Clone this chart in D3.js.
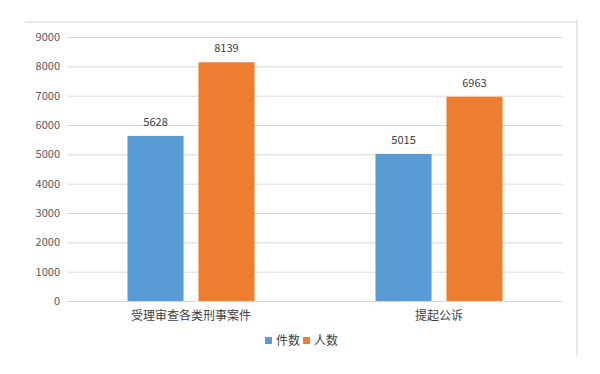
<!DOCTYPE html>
<html>
<head>
<meta charset="utf-8">
<script src="https://cdn.jsdelivr.net/npm/d3@7/dist/d3.min.js"></script>
<style>
  body { margin: 0; background: #fff; }
  text { font-family: "Noto Sans CJK SC", "Liberation Sans", sans-serif; }
</style>
</head>
<body>
<svg id="chart" width="600" height="374"></svg>
<script>
var categories = ["受理审查各类刑事案件", "提起公诉"];
var seriesNames = ["件数", "人数"];
var jianshu = [5628, 5015];
var renshu = [8139, 6963];
var yTicks = [0, 1000, 2000, 3000, 4000, 5000, 6000, 7000, 8000, 9000];

var colors = ["#5B9BD5", "#ED7D31"];

var svg = d3.select("#chart");

// frame of the original excel chart (top + right edge)
svg.append("line").attr("x1", 25).attr("x2", 577).attr("y1", 22).attr("y2", 22)
  .attr("stroke", "#d4d4d4").attr("stroke-width", 1);
svg.append("line").attr("x1", 577).attr("x2", 577).attr("y1", 20).attr("y2", 356)
  .attr("stroke", "#d4d4d4").attr("stroke-width", 1);

var plotLeft = 67, plotRight = 563, plotTop = 37, plotBottom = 301;

var y = d3.scaleLinear().domain([0, 9000]).range([plotBottom, plotTop]);
var x0 = d3.scaleBand().domain(categories).range([plotLeft, plotRight]);
var x1 = d3.scaleBand().domain(seriesNames).range([0, 127]).paddingInner(0.21);

// gridlines
svg.append("g").selectAll("line").data(yTicks).enter().append("line")
  .attr("x1", plotLeft).attr("x2", plotRight)
  .attr("y1", d => y(d) + 0.5).attr("y2", d => y(d) + 0.5)
  .attr("stroke", "#d9d9d9").attr("stroke-width", 1);

// y labels
svg.append("g").selectAll("text").data(yTicks).enter().append("text")
  .attr("x", 60).attr("y", d => y(d) + 4)
  .attr("text-anchor", "end")
  .attr("font-size", 11).attr("fill", "#595959")
  .text(d => d);

var data = categories.map((c, i) => ({cat: c, vals: [jianshu[i], renshu[i]]}));

var groups = svg.append("g").selectAll("g").data(data).enter().append("g")
  .attr("transform", d => "translate(" + (x0(d.cat) + (x0.bandwidth() - 127) / 2) + ",0)");

groups.selectAll("rect").data(d => d.vals.map((v, i) => ({name: seriesNames[i], v: v, i: i})))
  .enter().append("rect")
  .attr("x", d => x1(d.name))
  .attr("width", x1.bandwidth())
  .attr("y", d => y(d.v))
  .attr("height", d => plotBottom - y(d.v))
  .attr("fill", d => colors[d.i]);

groups.selectAll("text.val").data(d => d.vals.map((v, i) => ({name: seriesNames[i], v: v})))
  .enter().append("text")
  .attr("class", "val")
  .attr("x", d => x1(d.name) + x1.bandwidth() / 2)
  .attr("y", d => y(d.v) - 10)
  .attr("text-anchor", "middle")
  .attr("font-size", 11).attr("fill", "#404040")
  .text(d => d.v);

// category labels
svg.append("g").selectAll("text").data(categories).enter().append("text")
  .attr("x", d => x0(d) + x0.bandwidth() / 2)
  .attr("y", 320)
  .attr("text-anchor", "middle")
  .attr("font-size", 12).attr("fill", "#404040")
  .text(d => d);

// legend
var legendX = [265, 303];
var legend = svg.append("g").selectAll("g").data(seriesNames).enter().append("g")
  .attr("transform", (d, i) => "translate(" + legendX[i] + ",337)");
legend.append("rect").attr("width", 7).attr("height", 7).attr("fill", (d, i) => colors[i]);
legend.append("text").attr("x", 11).attr("y", 8)
  .attr("font-size", 12).attr("fill", "#404040")
  .text(d => d);
</script>
</body>
</html>
